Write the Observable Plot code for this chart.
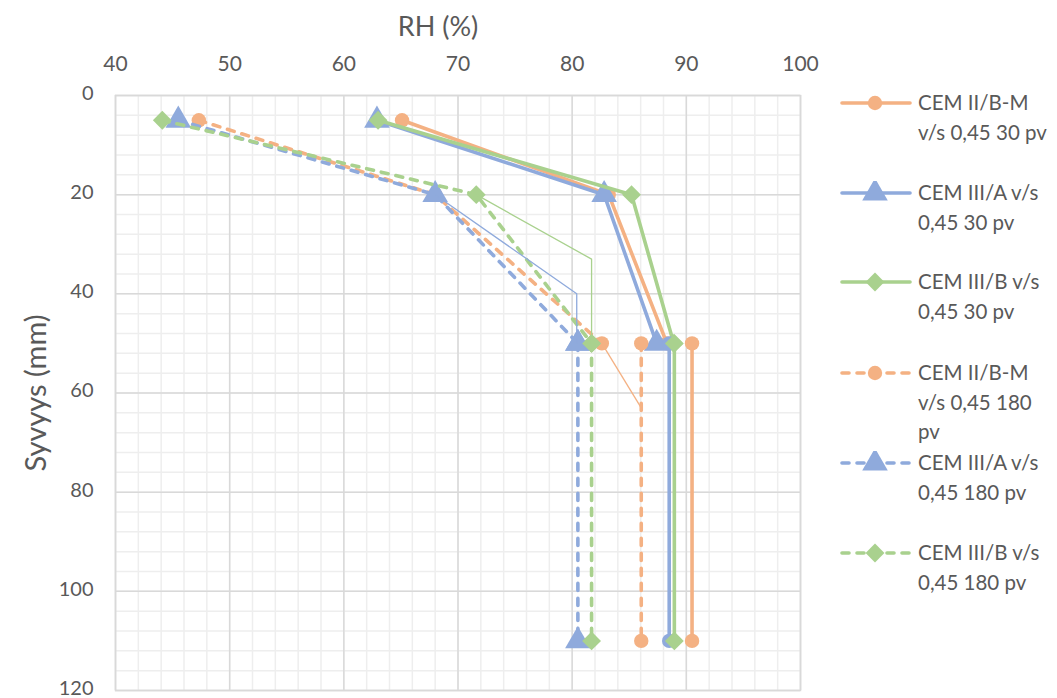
<!DOCTYPE html>
<html>
<head>
<meta charset="utf-8">
<script src="https://cdn.jsdelivr.net/npm/d3@7"></script>
<script src="https://cdn.jsdelivr.net/npm/@observablehq/plot@0.6"></script>
<style>
  html, body { margin: 0; padding: 0; background: #fff; }
  #wrap { position: relative; width: 1057px; height: 698px; overflow: hidden; font-family: Lato, "Open Sans", sans-serif; }
  #chart { position: absolute; left: 0; top: 0; }
  .lg { position: absolute; left: 840px; display: flex; align-items: flex-start; }
  .lg svg { flex: none; }
  .lg .t { margin-left: 6px; font-size: 20.5px; line-height: 29.5px; color: #595959; white-space: nowrap; margin-top: -14.75px; }
</style>
</head>
<body>
<div id="wrap"><div id="chart"></div><div id="legend"></div></div>
<script>
// ---- data ----
const xTicks = [40, 50, 60, 70, 80, 90, 100];
const yTicks = [0, 20, 40, 60, 80, 100, 120];
const seriesNames = [
  ["CEM II/B-M", "v/s 0,45 30 pv"],
  ["CEM III/A v/s", "0,45 30 pv"],
  ["CEM III/B v/s", "0,45 30 pv"],
  ["CEM II/B-M", "v/s 0,45 180", "pv"],
  ["CEM III/A v/s", "0,45 180 pv"],
  ["CEM III/B v/s", "0,45 180 pv"]
];
// depths (mm)
const depthMain = [5, 20, 50];
const depthDeep = [50, 110];
// RH (%) at depthMain
const rhII30 = [65.1, 83.2, 88.3];
const rhIIIA30 = [62.9, 82.8, 87.4];
const rhIIIB30 = [63.0, 85.2, 88.9];
const rhII180 = [47.3, 68.0, 82.6];
const rhIIIA180 = [45.5, 68.0, 80.5];
const rhIIIB180 = [44.1, 71.6, 81.7];
// RH (%) at depthDeep
const rhII30Deep = [90.5, 90.5];
const rhIIIA30Deep = [88.5, 88.5];
const rhIIIB30Deep = [88.95, 88.95];
const rhII180Deep = [86.05, 86.05];
const rhIIIA180Deep = [80.5, 80.5];
const rhIIIB180Deep = [81.7, 81.7];
// thin connecting lines
const depthThinA = [20, 40, 50];
const rhThinA = [68.0, 80.4, 80.4];
const depthThinB = [20, 33, 50];
const rhThinB = [71.6, 81.7, 81.7];
const depthThinC = [50, 63];
const rhThinC = [82.6, 86.05];

// ---- styling ----
const ORANGE = "#F4B183", BLUE = "#8FAADC", GREEN = "#A9D18E";
const DASH = "7,8";
const pts = (rh, d) => rh.map((v, i) => ({x: v, y: d[i]}));
const SYM = {circle: 7.2, triangle: 9.5, diamond2: 8.5};

const series = [
  {data: pts(rhII30, depthMain), color: ORANGE, dash: null, symbol: "circle"},
  {data: pts(rhIIIA30, depthMain), color: BLUE, dash: null, symbol: "triangle"},
  {data: pts(rhIIIB30, depthMain), color: GREEN, dash: null, symbol: "diamond2"},
  {data: pts(rhII180, depthMain), color: ORANGE, dash: DASH, symbol: "circle"},
  {data: pts(rhIIIA180, depthMain), color: BLUE, dash: DASH, symbol: "triangle"},
  {data: pts(rhIIIB180, depthMain), color: GREEN, dash: DASH, symbol: "diamond2"},
  {data: pts(rhII30Deep, depthDeep), color: ORANGE, dash: null, symbol: "circle"},
  {data: pts(rhIIIA30Deep, depthDeep), color: BLUE, dash: null, symbol: "circle"},
  {data: pts(rhIIIB30Deep, depthDeep), color: GREEN, dash: null, symbol: "diamond2"},
  {data: pts(rhII180Deep, depthDeep), color: ORANGE, dash: DASH, symbol: "circle"},
  {data: pts(rhIIIA180Deep, depthDeep), color: BLUE, dash: DASH, symbol: "triangle"},
  {data: pts(rhIIIB180Deep, depthDeep), color: GREEN, dash: DASH, symbol: "diamond2"},
  {data: pts(rhThinA, depthThinA), color: BLUE, dash: null, symbol: null, thin: true},
  {data: pts(rhThinB, depthThinB), color: GREEN, dash: null, symbol: null, thin: true},
  {data: pts(rhThinC, depthThinC), color: ORANGE, dash: null, symbol: null, thin: true}
];

const minorX = d3.range(40, 100.1, 2);
const minorY = d3.range(0, 120.1, 4);

const marks = [
  Plot.ruleX(minorX, {stroke: "#eeeeee", strokeWidth: 1.5}),
  Plot.ruleY(minorY, {stroke: "#eeeeee", strokeWidth: 1.5}),
  Plot.ruleX(xTicks, {stroke: "#d9d9d9", strokeWidth: 1.5}),
  Plot.ruleY(yTicks, {stroke: "#d9d9d9", strokeWidth: 1.5}),
  Plot.frame({stroke: "#d9d9d9", strokeWidth: 1.5}),
  Plot.axisX({anchor: "top", ticks: xTicks, tickSize: 0, tickPadding: 25, fontSize: 21, label: null, tickFormat: d => d}),
  Plot.axisY({anchor: "left", ticks: yTicks, tickSize: 0, tickPadding: 22, fontSize: 20, dy: -2, label: null, tickFormat: d => d}),
  Plot.text(["RH (%)"], {frameAnchor: "top", dx: -20, dy: -79, fontSize: 27, fill: "#595959"}),
  Plot.text(["Syvyys (mm)"], {frameAnchor: "left", textAnchor: "middle", dx: -79, rotate: -90, fontSize: 29, fill: "#595959"})
];
for (const s of series) {
  marks.push(Plot.line(s.data, {x: "x", y: "y", stroke: s.color,
    strokeWidth: s.thin ? 1.3 : 3.6, strokeDasharray: s.dash || undefined,
    strokeLinecap: s.dash ? "round" : "butt", strokeLinejoin: "round"}));
  if (s.symbol) marks.push(Plot.dot(s.data, {x: "x", y: "y", symbol: s.symbol, fill: s.color, stroke: "none", r: SYM[s.symbol]}));
}

const chart = Plot.plot({
  width: 830, height: 698,
  marginLeft: 115, marginRight: 30, marginTop: 95, marginBottom: 8,
  style: {fontFamily: "Lato, 'Open Sans', sans-serif", color: "#595959", background: "#fff", overflow: "visible"},
  x: {domain: [40, 100]},
  y: {domain: [0, 120], reverse: true},
  marks
});
document.getElementById("chart").appendChild(chart);

// ---- legend ----
const legendTops = [103, 193, 282, 373, 463, 553];
const legendStyles = series.slice(0, 6);
const legend = document.getElementById("legend");
seriesNames.forEach((lines, i) => {
  const s = legendStyles[i];
  const div = document.createElement("div");
  div.className = "lg";
  div.style.top = legendTops[i] + "px";
  const ns = "http://www.w3.org/2000/svg";
  const svg = document.createElementNS(ns, "svg");
  svg.setAttribute("width", 72); svg.setAttribute("height", 24);
  svg.style.marginTop = "-12px";
  const ln = document.createElementNS(ns, "line");
  ln.setAttribute("x1", 2); ln.setAttribute("x2", 70); ln.setAttribute("y1", 12); ln.setAttribute("y2", 12);
  ln.setAttribute("stroke", s.color); ln.setAttribute("stroke-width", 3.6);
  ln.setAttribute("stroke-linecap", "round");
  if (s.dash) { ln.setAttribute("stroke-dasharray", s.dash); }
  svg.appendChild(ln);
  const sym = {circle: d3.symbolCircle, triangle: d3.symbolTriangle, diamond2: d3.symbolDiamond2}[s.symbol];
  const p = document.createElementNS(ns, "path");
  const r = SYM[s.symbol];
  p.setAttribute("d", d3.symbol(sym, Math.PI * r * r)());
  p.setAttribute("transform", "translate(35,12)");
  p.setAttribute("fill", s.color);
  svg.appendChild(p);
  div.appendChild(svg);
  const t = document.createElement("div");
  t.className = "t";
  t.innerHTML = lines.join("<br>");
  div.appendChild(t);
  legend.appendChild(div);
});
</script>
</body>
</html>
